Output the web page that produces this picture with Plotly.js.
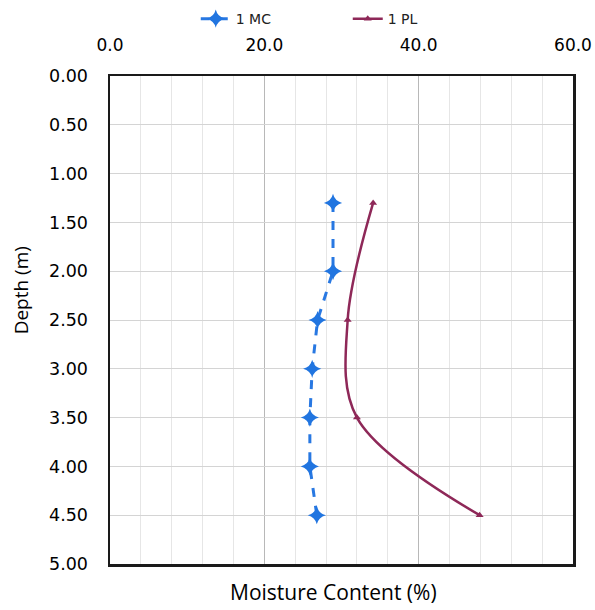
<!DOCTYPE html>
<html>
<head>
<meta charset="utf-8">
<script src="https://cdn.plot.ly/plotly-3.0.1.min.js"></script>
<style>html,body{margin:0;padding:0;background:#fff;}#chart{width:595px;height:610px;}</style>
</head>
<body>
<div id="chart"></div>
<script>
// Data
const mcDepth = [1.3, 2.0, 2.5, 3.0, 3.5, 4.0, 4.5];
const mcValue = [28.9, 28.9, 26.9, 26.2, 25.9, 25.9, 26.8];
const plDepth = [1.3, 2.5, 3.5, 4.5];
const plValue = [34.1, 30.8, 32.0, 47.9];
const seriesNames = ["1 MC", "1 PL"];
const xTitle = "Moisture Content (%)";
const yTitle = "Depth (m)";

const traces = [
  {
    x: mcValue, y: mcDepth, name: seriesNames[0], type: 'scatter', mode: 'lines+markers',
    line: {color: '#2878e2', width: 3, dash: 'dash'},
    marker: {symbol: 'star-diamond', size: 13, color: '#2175e0'}
  },
  {
    x: plValue, y: plDepth, name: seriesNames[1], type: 'scatter', mode: 'lines+markers',
    line: {color: '#8e2858', width: 2.5, shape: 'spline', smoothing: 1},
    marker: {symbol: 'triangle-up', size: 7, color: '#8e2858'}
  }
];

const layout = {
  width: 595, height: 610,
  margin: {l: 110, r: 22, t: 76, b: 46},
  paper_bgcolor: '#ffffff', plot_bgcolor: '#ffffff',
  showlegend: true,
  legend: {orientation: 'h', xref: 'container', x: 0.329, xanchor: 'left', yref: 'container', y: 0.995, yanchor: 'top',
           font: {family: 'DejaVu Sans', size: 14, color: '#222'}, entrywidth: 107, entrywidthmode: 'pixels',
           bgcolor: 'rgba(0,0,0,0)'},
  xaxis: {
    side: 'top', range: [0, 60], dtick: 20, tick0: 0, tickformat: '.1f',
    showline: true, mirror: true, linecolor: '#1a1a1a', linewidth: 2.5,
    showgrid: true, gridcolor: '#b8b8b8', gridwidth: 1,
    minor: {dtick: 4, showgrid: true, gridcolor: '#e6e6e6', gridwidth: 1},
    zeroline: false, ticks: '', ticklabelstandoff: 16,
    tickfont: {family: 'DejaVu Sans', size: 17, color: '#000'}
  },
  yaxis: {
    range: [5, 0], dtick: 0.5, tick0: 0, tickformat: '.2f',
    showline: true, mirror: true, linecolor: '#1a1a1a', linewidth: 2.5,
    showgrid: true, gridcolor: '#d4d4d4', gridwidth: 1,
    zeroline: false, ticks: '', ticklabelstandoff: 16,
    tickfont: {family: 'DejaVu Sans', size: 17.5, color: '#000'}
  },
  annotations: [
    {text: xTitle, xref: 'paper', yref: 'paper', x: 0.483, y: -0.025, yanchor: 'top', xanchor: 'center',
     showarrow: false, font: {family: 'Open Sans', size: 21, color: '#000'}},
    {text: yTitle, xref: 'paper', yref: 'paper', x: -0.193, y: 0.56, xanchor: 'center', yanchor: 'middle',
     textangle: -90, showarrow: false, font: {family: 'Open Sans', size: 19, color: '#000'}}
  ]
};

Plotly.newPlot('chart', traces, layout, {displayModeBar: false, staticPlot: true});
</script>
</body>
</html>
